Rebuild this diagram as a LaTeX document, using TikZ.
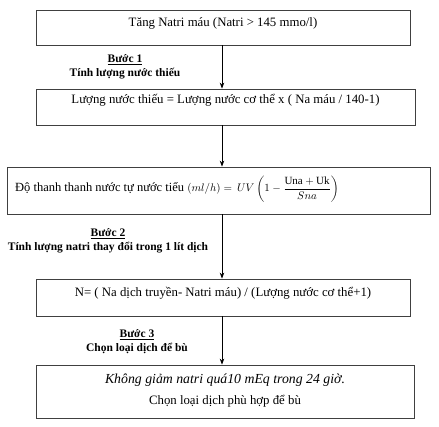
\documentclass[tikz,border=0pt]{standalone}
\usepackage{amsmath}
\usepackage{fontspec}
\setmainfont{Liberation Serif}
\usetikzlibrary{arrows.meta}
\begin{document}
\begin{tikzpicture}[x=1pt,y=-1pt,
  box/.style={draw=black!75, line width=0.8pt, inner sep=0pt},
  txt/.style={inner sep=0pt, font=\fontsize{12.8}{15}\selectfont},
  step label/.style={inner sep=0pt, align=center, font=\fontsize{11.5}{14}\selectfont\bfseries},
  arr/.style={line width=0.8pt, -{Stealth[length=6pt,width=4.5pt]}}]
\useasboundingbox (0,0) rectangle (439,426);
\fill[white] (0,0) rectangle (439,426);
% boxes
\node[box, minimum width=374pt, minimum height=35pt] (b1) at (223,27.5) {};
\node[box, minimum width=379pt, minimum height=36pt] (b2) at (225.5,107) {};
\node[box, minimum width=423pt, minimum height=47pt] (b3) at (218.5,190.5) {};
\node[box, minimum width=374pt, minimum height=37pt] (b4) at (223,297.5) {};
\node[box, minimum width=378pt, minimum height=53pt] (b5) at (225,391.5) {};
% texts
\node[txt] (t1) at (223,23) {Tăng Natri máu (Natri > 145 mmo/l)};
\node[txt] (t2) at (225.5,100) {Lượng nước thiếu = Lượng nước cơ thể x ( Na máu / 140-1)};
\node[txt, anchor=west, font=\fontsize{12.5}{14}\selectfont] (t3) at (15,189) {Độ thanh thanh nước tự nước tiểu {\fontsize{11}{13}\selectfont$(ml/h) =\,UV\left(1-\dfrac{\mathrm{Una} + \mathrm{Uk}}{Sna}\right)$}};
\node[txt] (t4) at (223,293) {N= ( Na dịch truyền- Natri máu) / (Lượng nước cơ thể+1)};
\node[txt, font=\fontsize{13.8}{16}\selectfont\itshape] (t5a) at (225,380) {Không giảm natri quá10 mEq trong 24 giờ.};
\node[txt] (t5b) at (225,401) {Chọn loại dịch phù hợp để bù};
% step labels
\node[step label] (s1) at (125,67) {\underline{Bước 1}\\Tính lượng nước thiếu};
\node[step label] (s2) at (108,241) {\underline{Bước 2}\\Tính lượng natri thay đổi trong 1 lít dịch};
\node[step label] (s3) at (137,342) {\underline{Bước 3}\\Chọn loại dịch để bù};
% arrows
\coordinate (ax) at (222,0);
\draw[arr] (b1.south -| ax) -- (b2.north -| ax);
\draw[arr] (b2.south -| ax) -- (b3.north -| ax);
\draw[arr] (b3.south -| ax) -- (b4.north -| ax);
\draw[arr] (b4.south -| ax) -- (b5.north -| ax);
\end{tikzpicture}
\end{document}
